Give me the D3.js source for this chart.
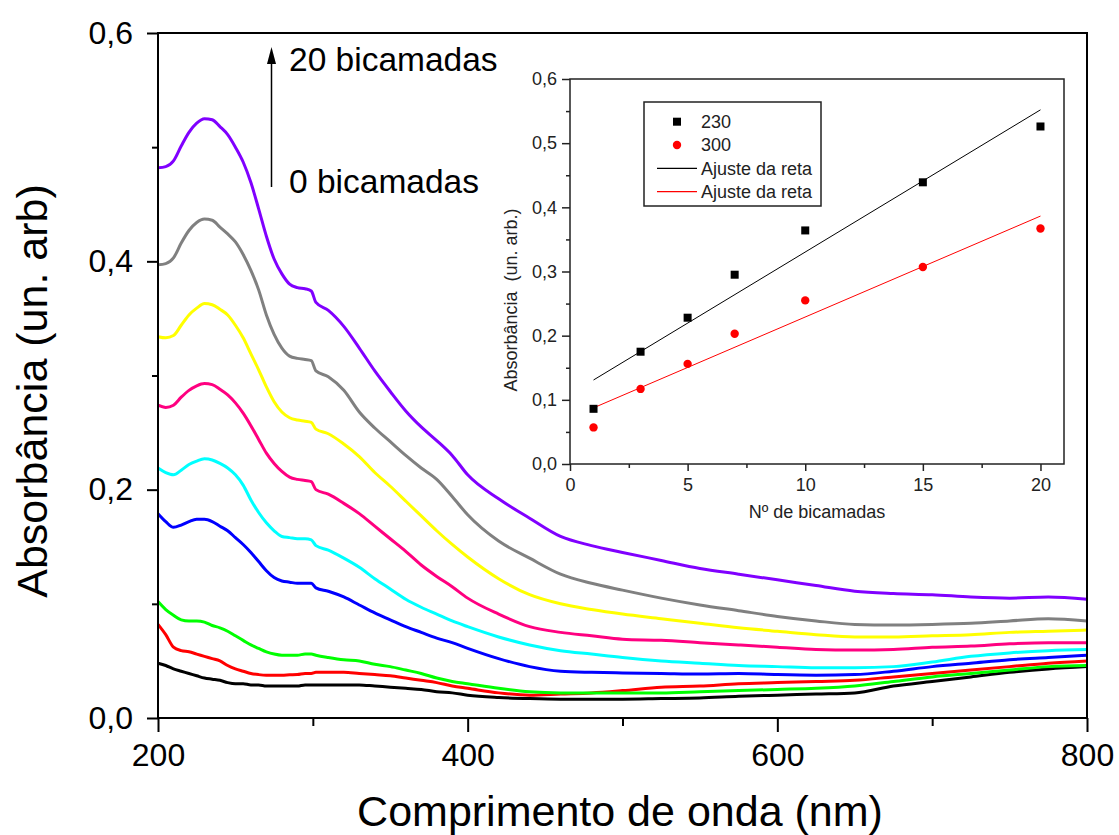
<!DOCTYPE html>
<html>
<head>
<meta charset="utf-8">
<script src="https://cdn.jsdelivr.net/npm/d3@7"></script>
<style>
    body { margin: 0; background: #fff; }
    svg { display: block; font-family: "Liberation Sans", Arial, sans-serif; }
</style>
</head>
<body>
<svg width="1119" height="835"></svg>
<script>
// wavelength grid (nm)
var wavelengths = [200, 205, 210, 215, 220, 225, 230, 235, 240, 245, 250, 255, 260, 265, 270, 275, 280, 285, 290, 295,
    299, 302, 310, 320, 330, 340, 350, 360, 370, 380, 390, 400, 420, 440, 460, 480, 500,
    525, 550, 575, 600, 625, 650, 675, 700, 725, 750, 775, 800];

// absorbance spectra, one per film
var absBlack = [0.048, 0.046, 0.043, 0.041, 0.039, 0.037, 0.035, 0.034, 0.033, 0.031, 0.030, 0.030, 0.029, 0.029, 0.028, 0.028, 0.028, 0.028, 0.028, 0.029,
    0.029, 0.029, 0.029, 0.029, 0.029, 0.028, 0.027, 0.026, 0.025, 0.023, 0.022, 0.020, 0.018, 0.017, 0.0165, 0.0165, 0.0165,
    0.017, 0.0175, 0.019, 0.020, 0.021, 0.022, 0.028, 0.032, 0.036, 0.040, 0.043, 0.045];
var absRed = [0.082, 0.073, 0.062, 0.059, 0.058, 0.056, 0.054, 0.052, 0.050, 0.046, 0.043, 0.041, 0.039, 0.038, 0.0375, 0.0375, 0.0375, 0.0378, 0.038, 0.039,
    0.039, 0.040, 0.040, 0.040, 0.039, 0.038, 0.037, 0.035, 0.033, 0.031, 0.028, 0.026, 0.022, 0.020, 0.021, 0.022, 0.024,
    0.027, 0.028, 0.030, 0.031, 0.032, 0.033, 0.036, 0.039, 0.042, 0.045, 0.048, 0.050];
var absGreen = [0.102, 0.095, 0.090, 0.086, 0.085, 0.085, 0.084, 0.081, 0.079, 0.076, 0.072, 0.068, 0.064, 0.061, 0.058, 0.056, 0.055, 0.055, 0.055, 0.056,
    0.056, 0.055, 0.053, 0.051, 0.050, 0.047, 0.045, 0.042, 0.039, 0.035, 0.032, 0.030, 0.026, 0.023, 0.022, 0.022, 0.022,
    0.022, 0.023, 0.024, 0.025, 0.026, 0.028, 0.032, 0.036, 0.039, 0.042, 0.045, 0.046];
var absBlue = [0.179, 0.172, 0.167, 0.169, 0.172, 0.174, 0.174, 0.172, 0.168, 0.164, 0.158, 0.152, 0.145, 0.137, 0.129, 0.123, 0.120, 0.119, 0.118, 0.118,
    0.118, 0.114, 0.111, 0.106, 0.099, 0.092, 0.086, 0.080, 0.075, 0.070, 0.066, 0.061, 0.052, 0.045, 0.041, 0.040, 0.0395,
    0.039, 0.0385, 0.039, 0.038, 0.0375, 0.038, 0.041, 0.045, 0.048, 0.051, 0.053, 0.055];
var absCyan = [0.219, 0.215, 0.213, 0.217, 0.222, 0.225, 0.227, 0.226, 0.223, 0.219, 0.213, 0.204, 0.191, 0.180, 0.171, 0.164, 0.159, 0.158, 0.157, 0.157,
    0.156, 0.151, 0.147, 0.140, 0.132, 0.122, 0.113, 0.104, 0.097, 0.091, 0.085, 0.080, 0.071, 0.064, 0.059, 0.056, 0.053,
    0.050, 0.048, 0.046, 0.045, 0.044, 0.044, 0.045, 0.049, 0.054, 0.057, 0.059, 0.060];
var absPink = [0.274, 0.272, 0.274, 0.281, 0.287, 0.291, 0.293, 0.292, 0.288, 0.283, 0.276, 0.267, 0.256, 0.244, 0.232, 0.223, 0.216, 0.211, 0.209, 0.208,
    0.207, 0.200, 0.196, 0.188, 0.179, 0.168, 0.157, 0.146, 0.134, 0.124, 0.115, 0.105, 0.091, 0.080, 0.075, 0.072, 0.069,
    0.068, 0.066, 0.064, 0.062, 0.060, 0.0595, 0.060, 0.062, 0.063, 0.065, 0.066, 0.066];
var absYellow = [0.334, 0.333, 0.335, 0.344, 0.353, 0.359, 0.363, 0.362, 0.358, 0.353, 0.344, 0.333, 0.319, 0.305, 0.290, 0.277, 0.268, 0.263, 0.261, 0.260,
    0.259, 0.253, 0.249, 0.240, 0.229, 0.215, 0.203, 0.190, 0.177, 0.164, 0.152, 0.141, 0.122, 0.108, 0.100, 0.095, 0.091,
    0.087, 0.083, 0.079, 0.076, 0.073, 0.071, 0.071, 0.072, 0.073, 0.075, 0.076, 0.077];
var absGray = [0.397, 0.398, 0.403, 0.416, 0.427, 0.434, 0.437, 0.436, 0.430, 0.424, 0.417, 0.406, 0.392, 0.375, 0.353, 0.336, 0.324, 0.317, 0.315, 0.314,
    0.313, 0.304, 0.299, 0.287, 0.268, 0.254, 0.242, 0.230, 0.219, 0.209, 0.194, 0.178, 0.155, 0.140, 0.126, 0.118, 0.112,
    0.105, 0.099, 0.094, 0.089, 0.085, 0.082, 0.0815, 0.082, 0.083, 0.085, 0.087, 0.085];
var absPurple = [0.482, 0.483, 0.488, 0.501, 0.513, 0.521, 0.525, 0.524, 0.518, 0.511, 0.500, 0.487, 0.469, 0.446, 0.422, 0.402, 0.389, 0.380, 0.377, 0.376,
    0.374, 0.364, 0.357, 0.343, 0.324, 0.304, 0.286, 0.269, 0.255, 0.243, 0.230, 0.213, 0.192, 0.175, 0.159, 0.151, 0.145,
    0.138, 0.131, 0.126, 0.121, 0.116, 0.111, 0.109, 0.108, 0.106, 0.105, 0.106, 0.104];

var spectra = [absBlack, absRed, absGreen, absBlue, absCyan, absPink, absYellow, absGray, absPurple];
var spectraColors = ["#000000", "#ff0000", "#00ff00", "#0000ff", "#00ffff", "#ff0080", "#ffff00", "#808080", "#8000ff"];

// inset data
var layers = [1, 3, 5, 7, 10, 15, 20];
var abs230 = [0.086, 0.175, 0.228, 0.295, 0.364, 0.439, 0.526];
var abs300 = [0.057, 0.117, 0.156, 0.203, 0.255, 0.307, 0.367];

var mainXTicks = [200, 400, 600, 800], mainXMinor = [300, 500, 700];
var mainYTicks = [0, 0.2, 0.4, 0.6], mainYMinor = [0.1, 0.3, 0.5];
var insetXTicks = [0, 5, 10, 15, 20], insetXMinor = [2.5, 7.5, 12.5, 17.5];
var insetYTicks = [0, 0.1, 0.2, 0.3, 0.4, 0.5, 0.6], insetYMinor = [0.05, 0.15, 0.25, 0.35, 0.45, 0.55];

var svg = d3.select("svg");
var comma = function (d) { return d3.format(".1f")(d).replace(".", ","); };

// ---------- main chart ----------
var x = d3.scaleLinear().domain([200, 800]).range([158, 1087]);
var y = d3.scaleLinear().domain([0, 0.6]).range([718, 33]);

var line = d3.line()
    .x(function (d) { return x(d[0]); })
    .y(function (d) { return y(d[1]); })
    .curve(d3.curveMonotoneX);

svg.append("g").selectAll("path")
    .data(spectra)
    .enter().append("path")
    .attr("fill", "none")
    .attr("stroke", function (d, i) { return spectraColors[i]; })
    .attr("stroke-width", 3)
    .attr("stroke-linejoin", "round")
    .attr("d", function (vals) {
        return line(wavelengths.map(function (w, i) { return [w, vals[i]]; }));
    });

svg.append("rect")
    .attr("x", 158).attr("y", 33)
    .attr("width", 1087 - 158).attr("height", 718 - 33)
    .attr("fill", "none").attr("stroke", "#000").attr("stroke-width", 2);

var gx = svg.append("g").attr("transform", "translate(0,718)")
    .call(d3.axisBottom(x).tickValues(mainXTicks).tickSize(14).tickFormat(d3.format("d")));
gx.select(".domain").remove();
gx.selectAll("line").attr("stroke-width", 2);
gx.selectAll("text").attr("y", 48).attr("dy", 0).attr("font-size", 32).attr("fill", "#000");

var gxm = svg.append("g").attr("transform", "translate(0,718)")
    .call(d3.axisBottom(x).tickValues(mainXMinor).tickSize(8).tickFormat(""));
gxm.select(".domain").remove();
gxm.selectAll("line").attr("stroke-width", 2);

var gy = svg.append("g").attr("transform", "translate(158,0)")
    .call(d3.axisLeft(y).tickValues(mainYTicks).tickSize(11).tickFormat(comma));
gy.select(".domain").remove();
gy.selectAll("line").attr("stroke-width", 2);
gy.selectAll("text").attr("x", -25).attr("font-size", 32).attr("fill", "#000");

var gym = svg.append("g").attr("transform", "translate(158,0)")
    .call(d3.axisLeft(y).tickValues(mainYMinor).tickSize(6).tickFormat(""));
gym.select(".domain").remove();
gym.selectAll("line").attr("stroke-width", 2);

svg.append("text")
    .attr("x", 620).attr("y", 826)
    .attr("text-anchor", "middle").attr("font-size", 43)
    .text("Comprimento de onda (nm)");

svg.append("text")
    .attr("transform", "translate(47,391) rotate(-90)")
    .attr("text-anchor", "middle").attr("font-size", 43)
    .text("Absorbância (un. arb)");

// arrow + annotation
svg.append("line")
    .attr("x1", 271.5).attr("x2", 271.5).attr("y1", 187).attr("y2", 60)
    .attr("stroke", "#000").attr("stroke-width", 1.5);
svg.append("path")
    .attr("d", "M271.5,47 L267,64 L276,64 Z")
    .attr("fill", "#000");
svg.append("text").attr("x", 289).attr("y", 71).attr("font-size", 33.5).text("20 bicamadas");
svg.append("text").attr("x", 289).attr("y", 193).attr("font-size", 33.5).text("0 bicamadas");

// ---------- inset ----------
var xi = d3.scaleLinear().domain([0, 21]).range([570, 1064]);
var yi = d3.scaleLinear().domain([0, 0.6]).range([464, 79]);

svg.append("rect")
    .attr("x", 570).attr("y", 79)
    .attr("width", 1064 - 570).attr("height", 464 - 79)
    .attr("fill", "#fff").attr("stroke", "#222").attr("stroke-width", 1.5);

var ix = svg.append("g").attr("transform", "translate(0,464)")
    .call(d3.axisBottom(xi).tickValues(insetXTicks).tickSize(7));
ix.select(".domain").remove();
ix.selectAll("line").attr("stroke", "#222").attr("stroke-width", 1.5);
ix.selectAll("text").attr("y", 27).attr("dy", 0).attr("font-size", 18).attr("fill", "#222");

var ixm = svg.append("g").attr("transform", "translate(0,464)")
    .call(d3.axisBottom(xi).tickValues(insetXMinor).tickSize(4).tickFormat(""));
ixm.select(".domain").remove();
ixm.selectAll("line").attr("stroke", "#222").attr("stroke-width", 1.5);

var iy = svg.append("g").attr("transform", "translate(570,0)")
    .call(d3.axisLeft(yi).tickValues(insetYTicks).tickSize(8).tickFormat(comma));
iy.select(".domain").remove();
iy.selectAll("line").attr("stroke", "#222").attr("stroke-width", 1.5);
iy.selectAll("text").attr("x", -13).attr("font-size", 18).attr("fill", "#222");

var iym = svg.append("g").attr("transform", "translate(570,0)")
    .call(d3.axisLeft(yi).tickValues(insetYMinor).tickSize(4).tickFormat(""));
iym.select(".domain").remove();
iym.selectAll("line").attr("stroke", "#222").attr("stroke-width", 1.5);

svg.append("text")
    .attr("x", 817).attr("y", 518)
    .attr("text-anchor", "middle").attr("font-size", 18).attr("fill", "#222")
    .text("Nº de bicamadas");

svg.append("text")
    .attr("transform", "translate(517,300) rotate(-90)")
    .attr("text-anchor", "middle").attr("font-size", 18).attr("fill", "#222")
    .style("white-space", "pre")
    .text("Absorbância  (un. arb.)");

// least squares fit lines
function fit(xs, ys) {
    var mx = d3.mean(xs), my = d3.mean(ys);
    var sxy = d3.sum(xs, function (v, i) { return (v - mx) * (ys[i] - my); });
    var sxx = d3.sum(xs, function (v) { return (v - mx) * (v - mx); });
    var b = sxy / sxx;
    return function (v) { return my + b * (v - mx); };
}
[[abs230, "#000"], [abs300, "#ff0000"]].forEach(function (s) {
    var f = fit(layers, s[0]);
    var ext = d3.extent(layers);
    svg.append("line")
        .attr("x1", xi(ext[0])).attr("y1", yi(f(ext[0])))
        .attr("x2", xi(ext[1])).attr("y2", yi(f(ext[1])))
        .attr("stroke", s[1]).attr("stroke-width", 1);
});

svg.append("g").selectAll("rect")
    .data(layers)
    .enter().append("rect")
    .attr("x", function (d) { return xi(d) - 4; })
    .attr("y", function (d, i) { return yi(abs230[i]) - 4; })
    .attr("width", 8).attr("height", 8)
    .attr("fill", "#000");

svg.append("g").selectAll("circle")
    .data(layers)
    .enter().append("circle")
    .attr("cx", function (d) { return xi(d); })
    .attr("cy", function (d, i) { return yi(abs300[i]); })
    .attr("r", 4.2)
    .attr("fill", "#ff0000");

// legend
var lg = svg.append("g");
lg.append("rect")
    .attr("x", 644).attr("y", 102).attr("width", 177).attr("height", 104)
    .attr("fill", "#fff").attr("stroke", "#222").attr("stroke-width", 1.5);
var legendRows = [121.7, 145, 168.3, 191.7];
lg.append("rect").attr("x", 673).attr("y", legendRows[0] - 4).attr("width", 8).attr("height", 8).attr("fill", "#000");
lg.append("circle").attr("cx", 677).attr("cy", legendRows[1]).attr("r", 4.2).attr("fill", "#ff0000");
lg.append("line").attr("x1", 657).attr("x2", 697).attr("y1", legendRows[2]).attr("y2", legendRows[2])
    .attr("stroke", "#000").attr("stroke-width", 1.2);
lg.append("line").attr("x1", 657).attr("x2", 697).attr("y1", legendRows[3]).attr("y2", legendRows[3])
    .attr("stroke", "#ff0000").attr("stroke-width", 1.2);
lg.selectAll("text.lab")
    .data(["230", "300", "Ajuste da reta", "Ajuste da reta"])
    .enter().append("text")
    .attr("class", "lab")
    .attr("x", 701)
    .attr("y", function (d, i) { return legendRows[i]; })
    .attr("dy", "0.36em")
    .attr("font-size", 18).attr("fill", "#222")
    .text(function (d) { return d; });
</script>
</body>
</html>
